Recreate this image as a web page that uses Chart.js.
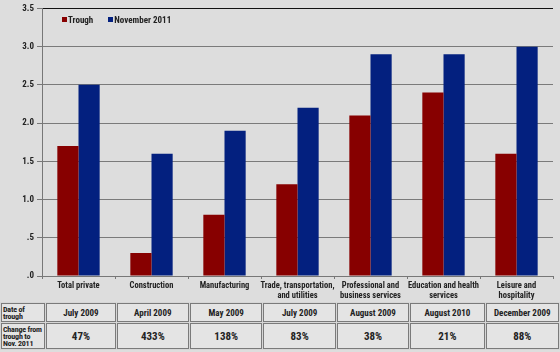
<!DOCTYPE html>
<html>
<head>
<meta charset="utf-8">
<script src="https://cdn.jsdelivr.net/npm/chart.js@4.4.1/dist/chart.umd.min.js"></script>
<style>
  html, body { margin: 0; padding: 0; background: #dddddd; }
  body { width: 560px; height: 352px; position: relative; overflow: hidden;
         font-family: 'Roboto Condensed', 'DejaVu Sans Condensed', sans-serif; }
  #wrap { position: absolute; left: 0; top: 0; width: 560px; height: 300px; }
  #legend { position: absolute; left: 62px; top: 15px; font-size: 9px; font-weight: bold; color: #222; }
  #legend span.item { margin-right: 15px; }
  #legend span.sw { display: inline-block; width: 5px; height: 5px; margin-right: 1px; vertical-align: 1px; }
  #tbl { position: absolute; left: 0; top: 302px; border-collapse: separate; border-spacing: 1px;
         background: #d6d6d6; table-layout: fixed; width: 560px; }
  #tbl td { border: 1px solid #7a7a7a; background: #e4e4e4; font-weight: bold; color: #222;
            text-align: center; padding: 0; font-size: 9px; }
  #tbl td.head { text-align: left; font-size: 8px; line-height: 7px; padding-left: 1px;
                 white-space: nowrap; letter-spacing: -0.2px; overflow: hidden; }
  #tbl tr.r1 td { height: 17px; }
  #tbl tr.r2 td { height: 24px; font-size: 11px; }
  #tbl tr.r2 td.head { font-size: 8px; }
</style>
</head>
<body>
<div id="wrap"><canvas id="chart"></canvas></div>
<div id="legend"></div>
<table id="tbl"></table>
<script>
// Jobs recovered: level at trough vs November 2011
const categories = [
  ["Total private"],
  ["Construction"],
  ["Manufacturing"],
  ["Trade, transportation,", "and utilities"],
  ["Professional and", "business services"],
  ["Education and health", "services"],
  ["Leisure and", "hospitality"],
];
const troughValues = [1.7, 0.3, 0.8, 1.2, 2.1, 2.4, 1.6];
const nov2011Values = [2.5, 1.6, 1.9, 2.2, 2.9, 2.9, 3.0];
const yTickLabels = [".0", ".5", "1.0", "1.5", "2.0", "2.5", "3.0", "3.5"];

// table under the chart
const troughDates = ["July 2009", "April 2009", "May 2009", "July 2009", "August 2009", "August 2010", "December 2009"];
const changePct = ["47%", "433%", "138%", "83%", "38%", "21%", "88%"];

const RED = "#870000";
const BLUE = "#03207f";
const FONT = "'Roboto Condensed', 'DejaVu Sans Condensed', sans-serif";

// ---- legend (html) ----
const legend = document.getElementById("legend");
[["Trough", RED], ["November 2011", BLUE]].forEach(([label, col]) => {
  const s = document.createElement("span");
  s.className = "item";
  s.innerHTML = `<span class="sw" style="background:${col}"></span>${label}`;
  legend.appendChild(s);
});

// ---- table ----
const tbl = document.getElementById("tbl");
const colWidths = [44, 69, 72, 72, 72, 72, 74, 73];
const cg = document.createElement("colgroup");
colWidths.forEach((w) => {
  const c = document.createElement("col");
  c.style.width = w + "px";
  cg.appendChild(c);
});
tbl.appendChild(cg);
const r1 = document.createElement("tr");
r1.className = "r1";
r1.innerHTML = `<td class="head">Date of<br>trough</td>` + troughDates.map((d) => `<td>${d}</td>`).join("");
tbl.appendChild(r1);
const r2 = document.createElement("tr");
r2.className = "r2";
r2.innerHTML = `<td class="head">Change from<br>trough to<br>Nov. 2011</td>` + changePct.map((p) => `<td>${p}</td>`).join("");
tbl.appendChild(r2);

// ---- chart ----
Chart.defaults.font.family = FONT;
Chart.defaults.font.weight = "bold";
Chart.defaults.color = "#222";

new Chart(document.getElementById("chart"), {
  type: "bar",
  data: {
    labels: categories,
    datasets: [
      { label: "Trough", data: troughValues, backgroundColor: RED },
      { label: "November 2011", data: nov2011Values, backgroundColor: BLUE },
    ],
  },
  options: {
    responsive: true,
    maintainAspectRatio: false,
    animation: false,
    layout: { padding: { top: 5, right: 7, left: 0, bottom: 0 } },
    plugins: { legend: { display: false }, tooltip: { enabled: false } },
    datasets: { bar: { categoryPercentage: 0.58, barPercentage: 1.0 } },
    scales: {
      x: {
        afterFit: (s) => { s.height = 24; },
        grid: {
          offset: true,
          drawOnChartArea: true,
          color: (ctx) => (ctx.index === categories.length ? "#111" : "rgba(0,0,0,0)"),
          tickColor: "#777",
          tickLength: 3,
          lineWidth: 1,
        },
        border: { color: "#777" },
        ticks: { font: { size: 8.5, weight: "bold" }, padding: 2, maxRotation: 0, autoSkip: false },
      },
      y: {
        min: 0,
        max: 3.5,
        afterFit: (s) => { s.width = 42; },
        grid: {
          color: (ctx) => (ctx.index === yTickLabels.length - 1 ? "#111" : "#7a7a7a"),
          tickColor: "#777",
          tickLength: 5,
        },
        border: { color: "#777" },
        ticks: {
          stepSize: 0.5,
          font: { size: 9, weight: "bold" },
          padding: 3,
          callback: (v, i) => yTickLabels[i],
        },
      },
    },
  },
});
</script>
</body>
</html>
